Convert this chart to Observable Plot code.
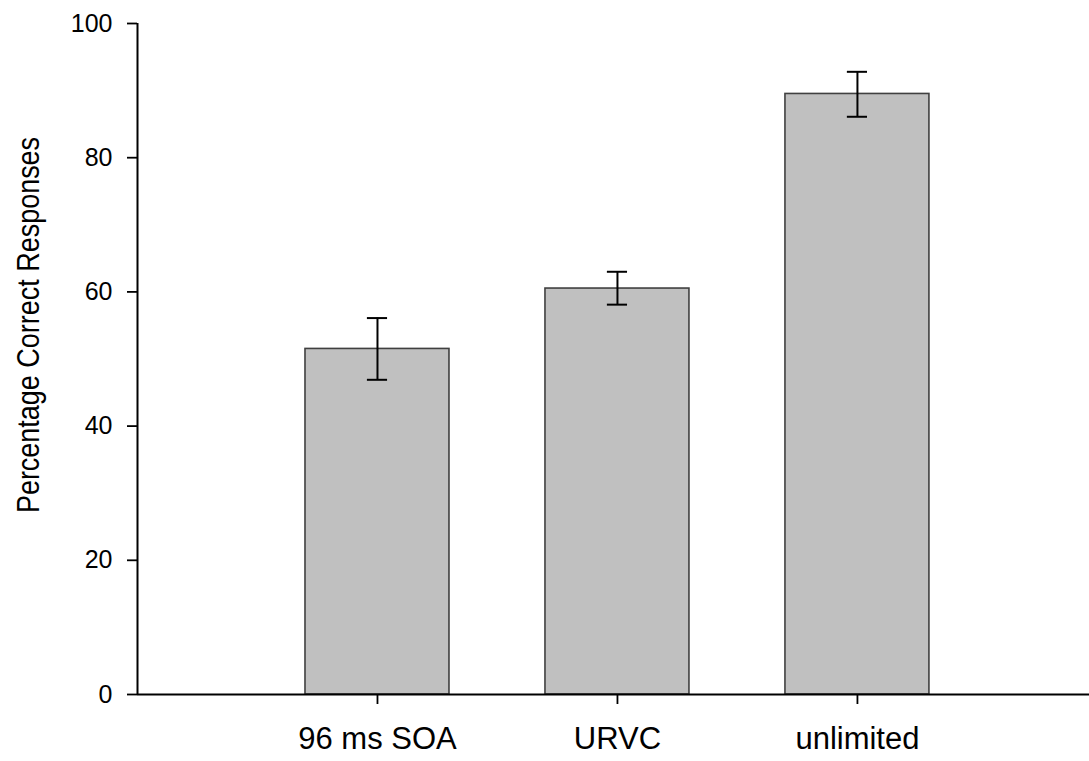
<!DOCTYPE html>
<html>
<head>
<meta charset="utf-8">
<script src="https://cdn.jsdelivr.net/npm/d3@7"></script>
<script src="https://cdn.jsdelivr.net/npm/@observablehq/plot@0.6"></script>
<style>
  html, body { margin: 0; padding: 0; background: #fff; }
  #chart svg { display: block; }
</style>
</head>
<body>
<div id="chart"></div>
<script>
const categories = ["96 ms SOA", "URVC", "unlimited"];
const means = [51.5, 60.5, 89.5];
const errHigh = [56.1, 63.0, 92.8];
const errLow = [46.9, 58.1, 86.1];
const yTicks = [0, 20, 40, 60, 80, 100];
const yLabel = "Percentage Correct Responses";

const data = categories.map((c, i) => ({
  name: c, pos: i + 1, mean: means[i], hi: errHigh[i], lo: errLow[i]
}));
const halfBar = 0.3;
const capHalf = 0.042;

const chart = Plot.plot({
  width: 1089,
  height: 761,
  marginLeft: 137,
  marginRight: 0,
  marginTop: 23,
  marginBottom: 67,
  style: { fontFamily: "'Liberation Sans', Arial, sans-serif", color: "#000", background: "#fff" },
  x: { type: "linear", domain: [0, 3.967] },
  y: { domain: [0, 100] },
  marks: [
    Plot.rect(data, {
      x1: d => d.pos - halfBar, x2: d => d.pos + halfBar, y1: 0, y2: "mean",
      fill: "#c0c0c0", stroke: "#404040", strokeWidth: 1.6
    }),
    Plot.ruleX(data, { x: "pos", y1: "lo", y2: "hi", stroke: "#000", strokeWidth: 2 }),
    Plot.ruleY(data, { y: "hi", x1: d => d.pos - capHalf, x2: d => d.pos + capHalf, stroke: "#000", strokeWidth: 2 }),
    Plot.ruleY(data, { y: "lo", x1: d => d.pos - capHalf, x2: d => d.pos + capHalf, stroke: "#000", strokeWidth: 2 }),
    Plot.ruleY([0], { stroke: "#000", strokeWidth: 2 }),
    Plot.ruleX([0], { stroke: "#000", strokeWidth: 2 }),
    Plot.axisY({ ticks: yTicks, tickSize: 10, tickPadding: 15, fontSize: 25, strokeWidth: 1.8, label: null }),
    Plot.axisX({ ticks: [1, 2, 3], tickFormat: i => categories[i - 1], tickSize: 10, tickPadding: 22, fontSize: 31, strokeWidth: 1.8, label: null }),
    Plot.text([yLabel], {
      text: d => d, frameAnchor: "left", rotate: -90, dx: -108, dy: -34,
      fontSize: 31, textAnchor: "middle", fill: "#000"
    })
  ]
});
// slightly condense the axis title along its length to match the reference proportions
chart.querySelectorAll("text").forEach(t => {
  if (t.textContent === yLabel) {
    const tr = t.getAttribute("transform") || "";
    t.setAttribute("transform", tr + " scale(0.87,1)");
  }
});
document.getElementById("chart").appendChild(chart);
</script>
</body>
</html>
